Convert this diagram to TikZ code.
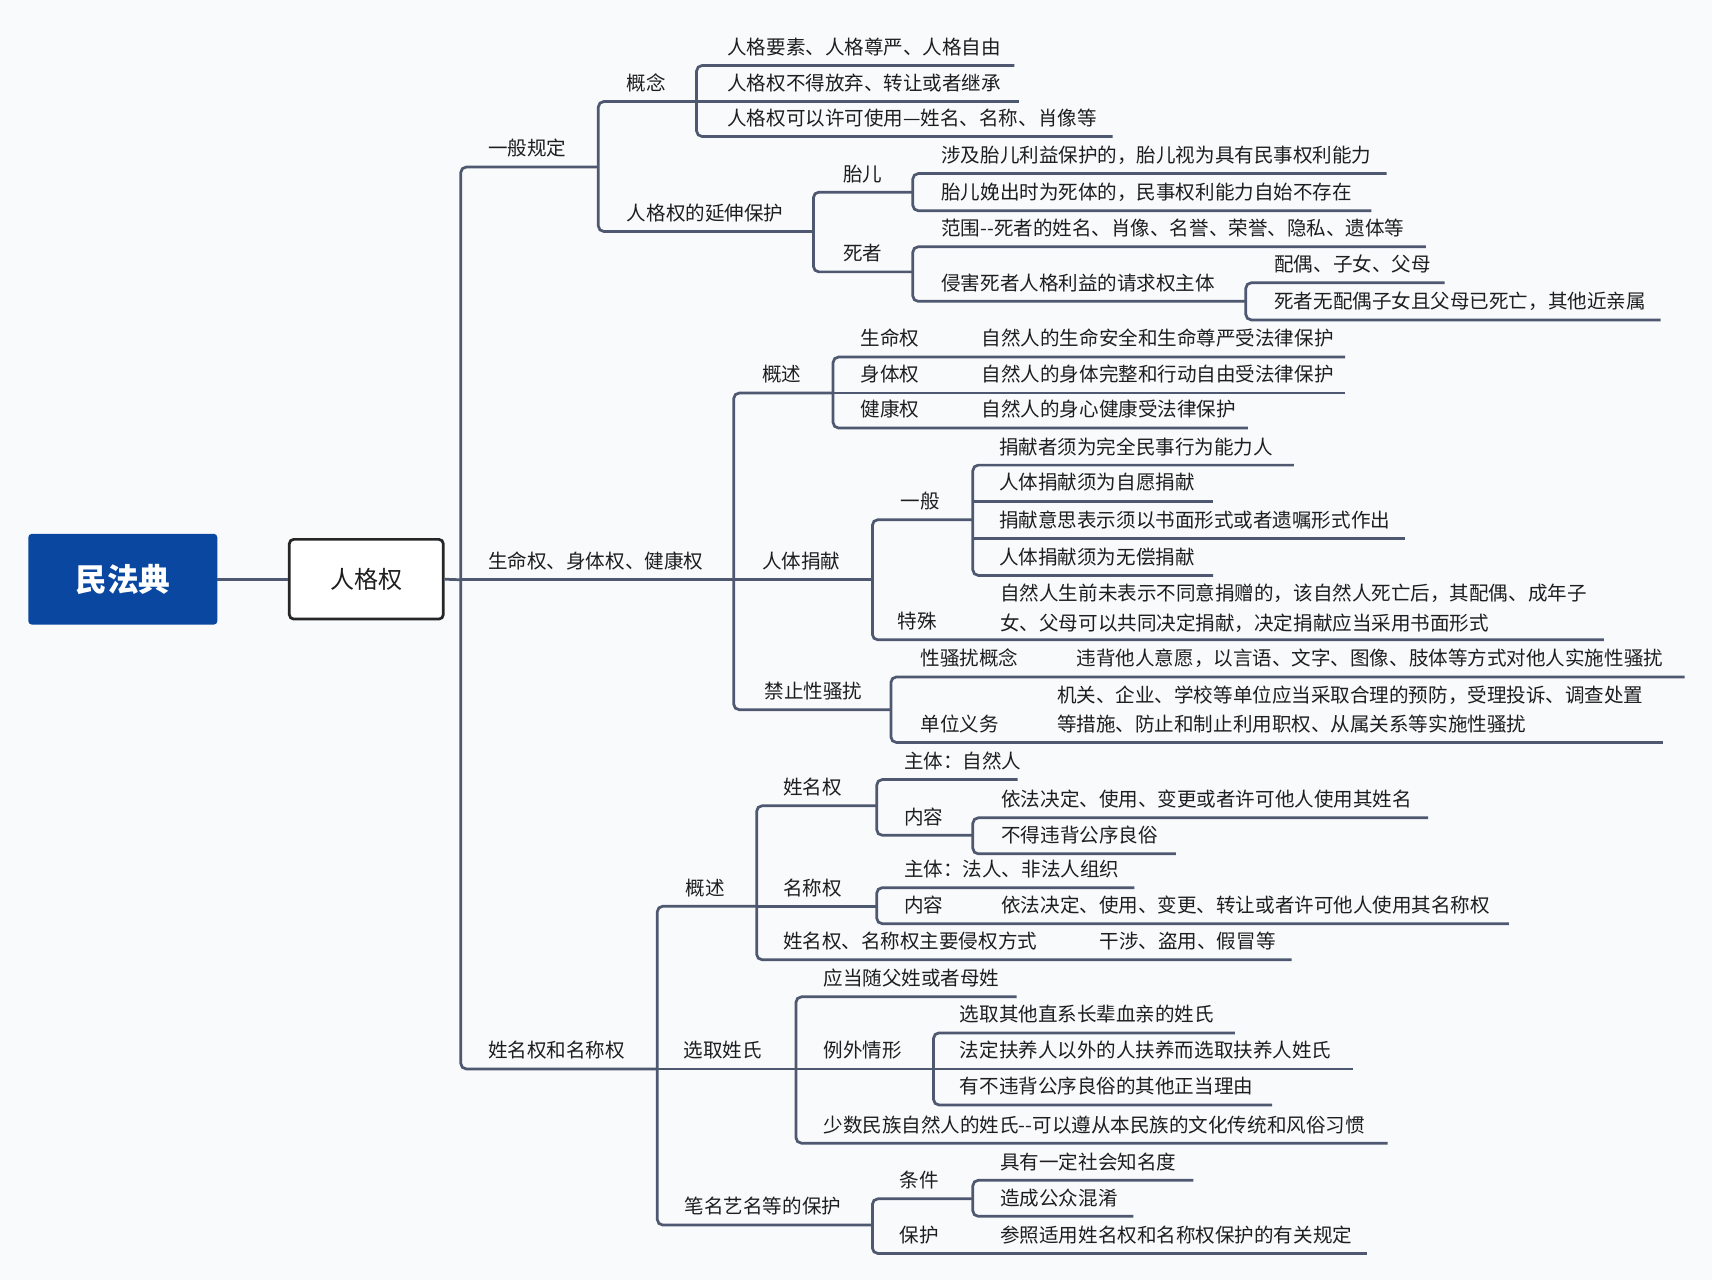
\documentclass[tikz,border=0pt]{standalone}
\usepackage{fontspec}
\newfontfamily\cjk{Noto Sans CJK SC}
\definecolor{lk}{RGB}{78,88,112}
\definecolor{rootblue}{RGB}{10,71,161}
\definecolor{bgc}{RGB}{249,250,252}
\definecolor{tx}{RGB}{30,30,30}
% name, bus x, text x, underline y, end x, text
\newcommand\mmitem[6]{%
  \node[txt] (#1) at (#3,#4-17) {#6};
  \coordinate (#1-s) at (#2,#4);
  \coordinate (#1-e) at (#5,#4);
}
\begin{document}
\begin{tikzpicture}[x=1pt,y=-1pt,
  txt/.style={anchor=west,inner sep=0pt,font=\cjk\fontsize{17.9}{27}\selectfont,text=tx},
  link/.style={draw=lk,line width=2.5pt},
  bus/.style={link,rounded corners=5pt}]
\fill[bgc] (0,0) rectangle (1568,1172);
\useasboundingbox (0,0) rectangle (1568,1172);

% root and second node
\node[fill=rootblue,rounded corners=3pt,minimum width=173pt,minimum height=83pt,inner sep=0pt,
      text=white,font=\cjk\bfseries\fontsize{29}{32}\selectfont] (root) at (112.5,530.5) {民法典};
\node[fill=white,draw=black!85,line width=2.5pt,rounded corners=4pt,minimum width=141pt,minimum height=73pt,inner sep=0pt,
      text=tx,font=\cjk\fontsize{22}{26}\selectfont] (pk) at (335.5,530.5) {人格权};

% level 1
\mmitem{A}{422}{447}{153}{548}{一般规定}
\mmitem{B}{422}{447}{531}{672}{生命权、身体权、健康权}
\mmitem{C}{422}{447}{979}{602}{姓名权和名称权}
\draw[link] (root.east) -- (pk.west);
\draw[link] (pk.east) -- (B-s);
\draw[bus] (A-e) -- (A-s) -- (C-s) -- (C-e);
\draw[link] (B-s) -- (B-e);

% ---------- 一般规定
\mmitem{A1}{548}{574}{93}{638}{概念}
\mmitem{A2}{548}{574}{212}{745}{人格权的延伸保护}
\draw[bus] (A1-e) -- (A1-s) -- (A2-s) -- (A2-e);

\mmitem{A11}{638}{666}{60}{929}{人格要素、人格尊严、人格自由}
\mmitem{A12}{638}{666}{93}{933}{人格权不得放弃、转让或者继承}
\mmitem{A13}{638}{666}{125}{1019}{人格权可以许可使用—姓名、名称、肖像等}
\draw[bus] (A11-e) -- (A11-s) -- (A13-s) -- (A13-e);
\draw[link] (A12-s) -- (A12-e);

\mmitem{A21}{745}{772}{176}{836}{胎儿}
\mmitem{A22}{745}{772}{249}{836}{死者}
\draw[bus] (A21-e) -- (A21-s) -- (A22-s) -- (A22-e);

\mmitem{A211}{836}{862}{159}{1270}{涉及胎儿利益保护的，胎儿视为具有民事权利能力}
\mmitem{A212}{836}{862}{193}{1256}{胎儿娩出时为死体的，民事权利能力自始不存在}
\draw[bus] (A211-e) -- (A211-s) -- (A212-s) -- (A212-e);

\mmitem{A221}{836}{862}{226}{1306}{范围--死者的姓名、肖像、名誉、荣誉、隐私、遗体等}
\mmitem{A222}{836}{862}{276}{1141}{侵害死者人格利益的请求权主体}
\draw[bus] (A221-e) -- (A221-s) -- (A222-s) -- (A222-e);

\mmitem{A2221}{1141}{1167}{259}{1323}{配偶、子女、父母}
\mmitem{A2222}{1141}{1167}{293}{1521}{死者无配偶子女且父母已死亡，其他近亲属}
\draw[bus] (A2221-e) -- (A2221-s) -- (A2222-s) -- (A2222-e);

% ---------- 生命权、身体权、健康权
\mmitem{B1}{672}{698}{360}{763}{概述}
\mmitem{B2}{672}{698}{531}{799}{人体捐献}
\mmitem{B3}{672}{700}{650}{816}{禁止性骚扰}
\draw[bus] (B1-e) -- (B1-s) -- (B3-s) -- (B3-e);
\draw[link] (B2-s) -- (B2-e);

\mmitem{B11}{763}{788}{327}{1232}{生命权}
\mmitem{B12}{763}{788}{360}{1232}{身体权}
\mmitem{B13}{763}{788}{392}{1143}{健康权}
\node[txt] (B11d) at (899,310) {自然人的生命安全和生命尊严受法律保护};
\node[txt] (B12d) at (899,343) {自然人的身体完整和行动自由受法律保护};
\node[txt] (B13d) at (899,375) {自然人的身心健康受法律保护};
\draw[bus] (B11-e) -- (B11-s) -- (B13-s) -- (B13-e);
\draw[link] (B12-s) -- (B12-e);

\mmitem{B21}{799}{825}{476}{891}{一般}
\mmitem{B22}{799}{822}{586}{1469}{特殊}
\node[txt,align=left] (B22d) at (916,557) {自然人生前未表示不同意捐赠的，该自然人死亡后，其配偶、成年子\\女、父母可以共同决定捐献，决定捐献应当采用书面形式};
\draw[bus] (B21-e) -- (B21-s) -- (B22-s) -- (B22-e);

\mmitem{B211}{891}{915}{426}{1185}{捐献者须为完全民事行为能力人}
\mmitem{B212}{891}{915}{459}{1111}{人体捐献须为自愿捐献}
\mmitem{B213}{891}{915}{493}{1287}{捐献意思表示须以书面形式或者遗嘱形式作出}
\mmitem{B214}{891}{915}{527}{1111}{人体捐献须为无偿捐献}
\draw[bus] (B211-e) -- (B211-s) -- (B214-s) -- (B214-e);
\draw[link] (B212-s) -- (B212-e);
\draw[link] (B213-s) -- (B213-e);

\mmitem{B31}{816}{843}{620}{1543}{性骚扰概念}
\mmitem{B32}{816}{843}{680}{1523}{单位义务}
\node[txt] (B31d) at (986,603) {违背他人意愿，以言语、文字、图像、肢体等方式对他人实施性骚扰};
\node[txt,align=left] (B32d) at (968,650) {机关、企业、学校等单位应当采取合理的预防，受理投诉、调查处置\\等措施、防止和制止利用职权、从属关系等实施性骚扰};
\draw[bus] (B31-e) -- (B31-s) -- (B32-s) -- (B32-e);

% ---------- 姓名权和名称权
\mmitem{C1}{602}{628}{830}{693}{概述}
\mmitem{C2}{602}{626}{979}{729}{选取姓氏}
\mmitem{C3}{602}{627}{1122}{799}{笔名艺名等的保护}
\draw[bus] (C1-e) -- (C1-s) -- (C3-s) -- (C3-e);
\draw[link] (C2-s) -- (C2-e);

\mmitem{C11}{693}{717}{738}{803}{姓名权}
\mmitem{C12}{693}{717}{830}{803}{名称权}
\mmitem{C13}{693}{717}{879}{1183}{姓名权、名称权主要侵权方式}
\node[txt] (C13d) at (1007,862) {干涉、盗用、假冒等};
\draw[bus] (C11-e) -- (C11-s) -- (C13-s) -- (C13-e);
\draw[link] (C12-s) -- (C12-e);

\mmitem{C111}{803}{828}{714}{932}{主体：自然人}
\mmitem{C112}{803}{828}{765}{891}{内容}
\draw[bus] (C111-e) -- (C111-s) -- (C112-s) -- (C112-e);
\mmitem{C1121}{891}{917}{749}{1308}{依法决定、使用、变更或者许可他人使用其姓名}
\mmitem{C1122}{891}{917}{782}{1077}{不得违背公序良俗}
\draw[bus] (C1121-e) -- (C1121-s) -- (C1122-s) -- (C1122-e);

\mmitem{C121}{803}{828}{813}{1039}{主体：法人、非法人组织}
\mmitem{C122}{803}{828}{846}{1382}{内容}
\node[txt] (C122d) at (917,829) {依法决定、使用、变更、转让或者许可他人使用其名称权};
\draw[bus] (C121-e) -- (C121-s) -- (C122-s) -- (C122-e);

\mmitem{C21}{729}{754}{913}{931}{应当随父姓或者母姓}
\mmitem{C22}{729}{754}{979}{855}{例外情形}
\mmitem{C23}{729}{754}{1047}{1271}{少数民族自然人的姓氏--可以遵从本民族的文化传统和风俗习惯}
\draw[bus] (C21-e) -- (C21-s) -- (C23-s) -- (C23-e);
\draw[link] (C22-s) -- (C22-e);

\mmitem{C221}{855}{879}{946}{1131}{选取其他直系长辈血亲的姓氏}
\mmitem{C222}{855}{879}{979}{1239}{法定扶养人以外的人扶养而选取扶养人姓氏}
\mmitem{C223}{855}{879}{1012}{1165}{有不违背公序良俗的其他正当理由}
\draw[bus] (C221-e) -- (C221-s) -- (C223-s) -- (C223-e);
\draw[link] (C222-s) -- (C222-e);

\mmitem{C31}{799}{824}{1098}{891}{条件}
\mmitem{C32}{799}{824}{1148}{1252}{保护}
\node[txt] (C32d) at (916,1131) {参照适用姓名权和名称权保护的有关规定};
\draw[bus] (C31-e) -- (C31-s) -- (C32-s) -- (C32-e);

\mmitem{C311}{891}{916}{1081}{1093}{具有一定社会知名度}
\mmitem{C312}{891}{916}{1114}{1038}{造成公众混淆}
\draw[bus] (C311-e) -- (C311-s) -- (C312-s) -- (C312-e);
\end{tikzpicture}
\end{document}
